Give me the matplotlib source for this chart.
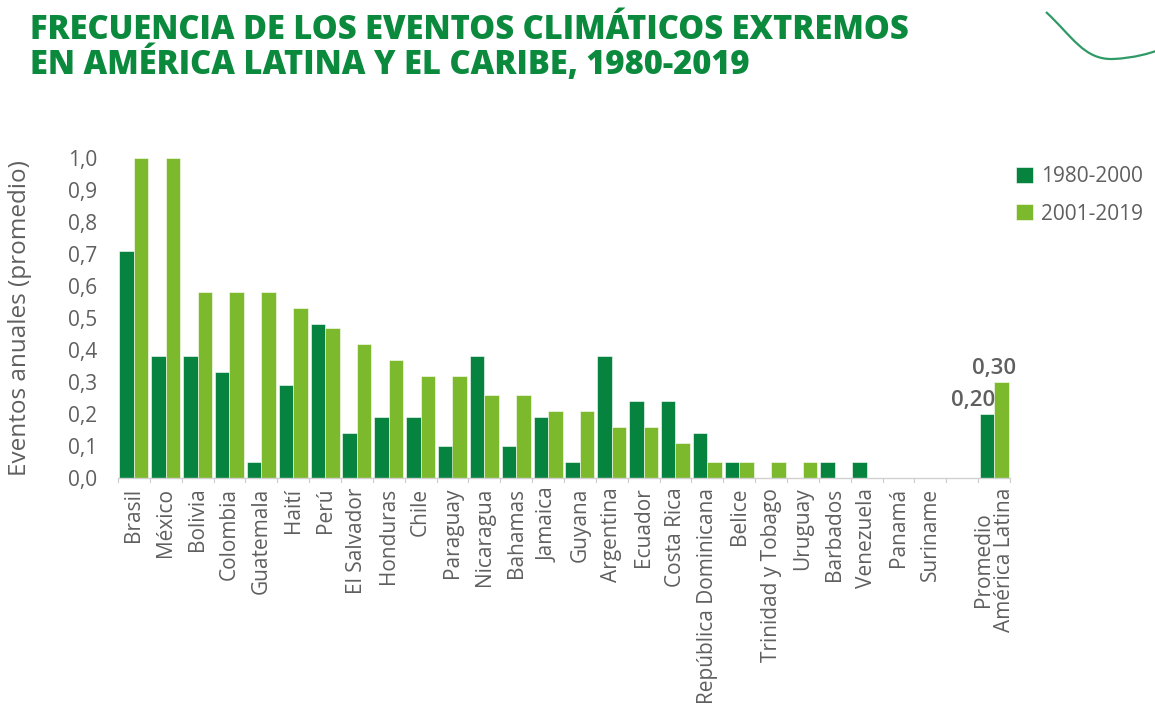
import matplotlib
matplotlib.use("Agg")
import matplotlib.pyplot as plt
import numpy as np
from matplotlib.path import Path
from matplotlib.patches import PathPatch

# Categories and values (annual average number of extreme climate events)
paises = ["Brasil", "México", "Bolivia", "Colombia", "Guatemala", "Haití", "Perú",
          "El Salvador", "Honduras", "Chile", "Paraguay", "Nicaragua", "Bahamas",
          "Jamaica", "Guyana", "Argentina", "Ecuador", "Costa Rica",
          "República Dominicana", "Belice", "Trinidad y Tobago", "Uruguay",
          "Barbados", "Venezuela", "Panamá", "Suriname", "",
          "Promedio\nAmérica Latina"]
periodo_1980_2000 = [0.71, 0.38, 0.38, 0.33, 0.05, 0.29, 0.48, 0.14, 0.19, 0.19,
                     0.10, 0.38, 0.10, 0.19, 0.05, 0.38, 0.24, 0.24, 0.14, 0.05,
                     0.0, 0.0, 0.05, 0.05, 0.0, 0.0, 0.0, 0.20]
periodo_2001_2019 = [1.0, 1.0, 0.58, 0.58, 0.58, 0.53, 0.47, 0.42, 0.37, 0.32,
                     0.32, 0.26, 0.26, 0.21, 0.21, 0.16, 0.16, 0.11, 0.05, 0.05,
                     0.05, 0.05, 0.0, 0.0, 0.0, 0.0, 0.0, 0.30]
yticks = [0.0, 0.1, 0.2, 0.3, 0.4, 0.5, 0.6, 0.7, 0.8, 0.9, 1.0]
serie_labels = ["1980-2000", "2001-2019"]

verde_oscuro = "#06843f"
verde_claro = "#7cb92c"
gris = "#5f5f5f"
verde_titulo = "#0b8a3e"

plt.rcParams["font.family"] = ["Open Sans", "DejaVu Sans"]

fig = plt.figure(figsize=(11.55, 7.15), dpi=100)
ax = fig.add_axes([118 / 1155, 1 - 478 / 715, (1010 - 118) / 1155, 320 / 715])

x = np.arange(len(paises))
w = 0.455
b1 = ax.bar(x - w / 2, periodo_1980_2000, width=w, color=verde_oscuro,
            edgecolor="white", linewidth=0.4, label=serie_labels[0])
b2 = ax.bar(x + w / 2, periodo_2001_2019, width=w, color=verde_claro,
            edgecolor="white", linewidth=0.4, label=serie_labels[1])

ax.set_xlim(-0.5, len(paises) - 0.5)
ax.set_ylim(0, 1.0)
ax.set_yticks(yticks)
ax.set_yticklabels([f"{v:.1f}".replace(".", ",") for v in yticks],
                   fontsize=15, color=gris)
ax.tick_params(axis="y", length=0, pad=15)

# Category labels and small separators between groups
ax.set_xticks(x)
ax.set_xticklabels(paises, rotation=90, fontsize=15, color=gris,
                   va="top", ha="center", linespacing=0.95)
ax.tick_params(axis="x", length=0, pad=7)
for sep in np.arange(-0.5, len(paises), 1.0):
    ax.plot([sep, sep], [0, -0.012], color="#cccccc", lw=0.8, clip_on=False)

for s in ["top", "right", "left"]:
    ax.spines[s].set_visible(False)
ax.spines["bottom"].set_color("#d0d0d0")
ax.spines["bottom"].set_linewidth(1.0)

ax.set_ylabel("Eventos anuales (promedio)", fontsize=17.5, color=gris, labelpad=26)

# Value labels on the regional average
i = len(paises) - 1
ax.annotate(f"{periodo_1980_2000[i]:.2f}".replace(".", ","),
            xy=(x[i], periodo_1980_2000[i]), xytext=(1, 2),
            textcoords="offset points", ha="right", va="bottom",
            fontsize=16, fontweight="semibold", color=gris)
ax.annotate(f"{periodo_2001_2019[i]:.2f}".replace(".", ","),
            xy=(x[i] + w / 2, periodo_2001_2019[i]), xytext=(-5, 2),
            textcoords="offset points", ha="center", va="bottom",
            fontsize=16, fontweight="semibold", color=gris)

leg = fig.legend(handles=[b1, b2], labels=serie_labels,
                 loc="upper left", bbox_to_anchor=(1016 / 1155, 1 - 166 / 715),
                 frameon=False, fontsize=15, handlelength=0.8, handleheight=0.8,
                 handletextpad=0.4, labelspacing=0.8, borderpad=0,
                 borderaxespad=0)
for t in leg.get_texts():
    t.set_color(gris)

# Title
fig.text(30 / 1155, 1 - 13 / 715,
         "FRECUENCIA DE LOS EVENTOS CLIMÁTICOS EXTREMOS\nEN AMÉRICA LATINA Y EL CARIBE, 1980-2019",
         ha="left", va="top", fontsize=23.5, fontweight="heavy",
         color=verde_titulo, linespacing=0.93)

# Decorative curve in the top-right corner
verts = [(1046, 12), (1072, 36), (1084, 60), (1113, 59), (1135, 58), (1150, 53), (1156, 51)]
codes = [Path.MOVETO, Path.CURVE4, Path.CURVE4, Path.CURVE4, Path.CURVE4, Path.CURVE4, Path.CURVE4]
verts_fig = [(vx / 1155, 1 - vy / 715) for vx, vy in verts]
curve = PathPatch(Path(verts_fig, codes), transform=fig.transFigure,
                  facecolor="none", edgecolor="#2f9a66", lw=1.6)
fig.patches.append(curve)

fig.savefig("out.png", dpi=100)
